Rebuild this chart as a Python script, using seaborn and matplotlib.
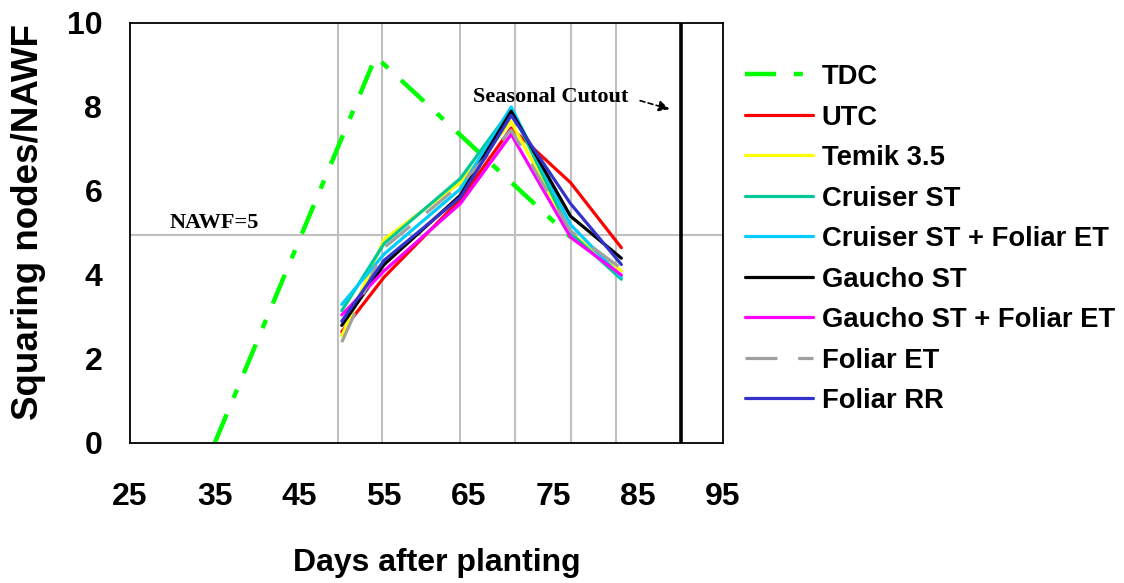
import matplotlib
matplotlib.use("Agg")
import matplotlib.pyplot as plt
import seaborn as sns
import pandas as pd

# Days after planting
tdc_days = [35, 54, 77]
treat_days = [50, 55, 64, 70, 77, 83]

# Squaring nodes / nodes above white flower
tdc = [0.0, 9.2, 4.9]
utc = [2.65, 3.95, 5.8, 7.5, 6.2, 4.65]
temik = [2.55, 4.85, 6.2, 7.65, 5.0, 4.1]
cruiser_st = [3.15, 4.75, 6.3, 7.95, 5.0, 3.9]
cruiser_foliar = [3.3, 4.5, 6.05, 8.0, 5.2, 3.95]
gaucho_st = [2.8, 4.25, 5.9, 7.9, 5.4, 4.4]
gaucho_foliar = [3.05, 4.1, 5.7, 7.35, 4.9, 4.0]
foliar_et = [2.4, 4.65, 6.15, 7.45, 5.05, 4.15]
foliar_rr = [2.9, 4.35, 5.85, 7.8, 5.7, 4.25]

labels = ["TDC", "UTC", "Temik 3.5", "Cruiser ST", "Cruiser ST + Foliar ET",
          "Gaucho ST", "Gaucho ST + Foliar ET", "Foliar ET", "Foliar RR"]

nawf_threshold = 5
cutout_day = 90
x_ticks = [25, 35, 45, 55, 65, 75, 85, 95]
y_ticks = [0, 2, 4, 6, 8, 10]

series = [
    (tdc_days, tdc), (treat_days, utc), (treat_days, temik), (treat_days, cruiser_st),
    (treat_days, cruiser_foliar), (treat_days, gaucho_st), (treat_days, gaucho_foliar),
    (treat_days, foliar_et), (treat_days, foliar_rr),
]

colors = ["#00FF00", "#FF0000", "#FFFF00", "#00C896", "#00CCFF",
          "#000000", "#FF00FF", "#A0A0A0", "#3333CC"]
widths = [3.2, 2.3, 2.3, 2.3, 2.3, 2.3, 2.3, 2.3, 2.3]
styles = [(0, (7, 4, 2, 4)), "-", "-", "-", "-", "-", "-", (0, (10, 6.5)), "-"]

sns.set_style("white")
plt.rcParams["font.family"] = ["Liberation Sans", "DejaVu Sans"]
plt.rcParams["text.color"] = "black"
plt.rcParams["axes.labelcolor"] = "black"
plt.rcParams["xtick.color"] = "black"
plt.rcParams["ytick.color"] = "black"

fig = plt.figure(figsize=(11.24, 5.83), dpi=100)
ax = fig.add_axes([130 / 1124, 1 - 443 / 583, 593 / 1124, 420 / 583])

# vertical sampling-date grid lines and the NAWF=5 reference line
for d in [49.5, 54.75, 64, 70.5, 77, 82.4]:
    ax.axvline(d, color="#C0C0C0", lw=1.5, zorder=0)
ax.axhline(nawf_threshold - 0.05, color="#C0C0C0", lw=1.5, zorder=0)

for (xs, ys), lab, col, lw, ls in zip(series, labels, colors, widths, styles):
    df = pd.DataFrame({"day": xs, "nodes": ys})
    sns.lineplot(data=df, x="day", y="nodes", ax=ax, color=col, lw=lw,
                 linestyle=ls, label=lab, sort=False)

# seasonal cutout
ax.axvline(cutout_day, color="black", lw=2.6, zorder=3)

ax.set_xlim(25, 95)
ax.set_ylim(0, 10)
ax.set_xticks(x_ticks)
ax.set_yticks(y_ticks)
ax.set_xlabel("")
ax.set_ylabel("")
ax.tick_params(axis="both", direction="out", length=9, width=1.2, color="black",
               labelsize=23, labelcolor="black")
ax.tick_params(axis="x", pad=19)
ax.tick_params(axis="y", pad=11)
for t in ax.get_xticklabels() + ax.get_yticklabels():
    t.set_fontweight("bold")
for s in ax.spines.values():
    s.set_color("black")
    s.set_linewidth(1.3)

ax.text(29.7, 5.25, "NAWF=5", family="Liberation Serif", fontweight="bold",
        fontsize=16, ha="left", va="center")
ax.text(65.5, 8.25, "Seasonal Cutout", family="Liberation Serif", fontweight="bold",
        fontsize=16, ha="left", va="center")
ax.annotate("", xy=(89.0, 7.93), xytext=(84.9, 8.17),
            arrowprops=dict(arrowstyle="-|>", color="black", lw=1.2,
                            linestyle=(0, (3, 2)), mutation_scale=16))

fig.text(29 / 1124, 1 - 222 / 583, "Squaring nodes/NAWF", rotation=90,
         ha="center", va="center", fontsize=26.5, fontweight="bold")
fig.text(437 / 1124, 1 - 563 / 583, "Days after planting",
         ha="center", va="center", fontsize=23, fontweight="bold")

leg = ax.legend(loc="upper left", bbox_to_anchor=(745 / 1124, 1 - 64 / 583),
                bbox_transform=fig.transFigure, frameon=False, borderpad=0,
                borderaxespad=0, handlelength=2.5, handletextpad=0.3,
                labelspacing=0.53, prop=dict(size=19.7, weight="bold"))

fig.savefig("out.png", dpi=100)
